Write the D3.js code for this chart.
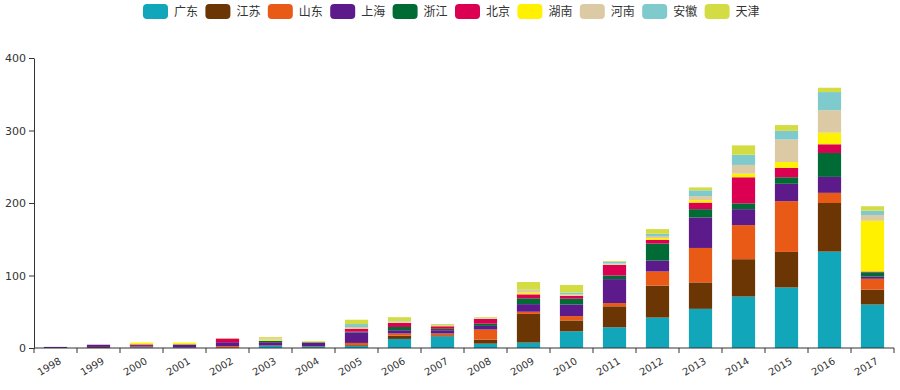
<!DOCTYPE html>
<html>
<head>
<meta charset="utf-8">
<script src="https://cdn.jsdelivr.net/npm/d3@7"></script>
<style>
  html, body { margin: 0; padding: 0; background: #fff; }
  svg { display: block; }
</style>
</head>
<body>
<svg id="chart" width="900" height="390"></svg>
<script>
const years = ["1998","1999","2000","2001","2002","2003","2004","2005","2006","2007","2008","2009","2010","2011","2012","2013","2014","2015","2016","2017"];
const seriesNames = ["广东","江苏","山东","上海","浙江","北京","湖南","河南","安徽","天津"];
const colors = ["#12a6ba","#6b3604","#ea5a17","#5d1a8b","#006b35","#db0052","#fff100","#dccaa4","#7fcacc","#d4dc44"];
const guangdong = [0,0,1,0.5,0,3,2,3,12.5,16,6,7.5,23,28.5,42,54,71,83.5,133,60];
const jiangsu   = [0,1.5,0,0,0,0.5,0.5,1,4.5,1.5,5.5,39.5,15,29,44,36.5,51.5,49,67,20.5];
const shandong  = [0,0,1,0,2.5,0,0,3,3,2.5,14,3,6,4.5,19.5,47.5,47,70,14,15];
const shanghai  = [1.5,3,2,4.5,5.5,4.5,5,14.5,4.5,4.5,5,10.5,16,33,15,42,22,24,22,3];
const zhejiang  = [0,0,0,0,0,2,0.5,1,4.5,2,3,8,8,5,23.5,11.5,8,9,33,6];
const beijing   = [0,0,1,0,5,0,0,4,5.5,3.5,6.5,5.5,4,14.5,5,9,36,13,12,1];
const hunan     = [0,0,2.5,2.5,0,1.5,0.5,0.5,0.5,0.5,0.5,2.5,0.5,0.5,2.5,3.5,5,8,16,70];
const henan     = [0,0,0,0,0,2,0,2,1.5,0.5,0.5,3.5,1.5,1.5,3,5.5,12,31,31,8];
const anhui     = [0,0,0,0,0,0,0,4,0.5,0.5,0.5,0.5,2.5,2.5,3,8,14,12,25,6];
const tianjin   = [0,0,0,0,0.5,1.5,1,6,5.5,1.5,1,10.5,10.5,1,6.5,4,13,8,6,6];
const yTicks = [0,100,200,300,400];

const seriesValues = [guangdong,jiangsu,shandong,shanghai,zhejiang,beijing,hunan,henan,anhui,tianjin];
const table = years.map((y,i) => {
  const row = {year: y};
  seriesNames.forEach((s,k) => row[s] = seriesValues[k][i]);
  return row;
});

const svg = d3.select("#chart");
const margin = {left: 34, right: 6, top: 58, bottom: 42};
const W = 900, H = 390;
const x = d3.scaleBand().domain(years).range([margin.left, W - margin.right]).paddingInner(0.46).paddingOuter(0.23);
const y = d3.scaleLinear().domain([0,400]).range([H - margin.bottom, margin.top]);

const stack = d3.stack().keys(seriesNames);
const stacked = stack(table);
const color = d3.scaleOrdinal().domain(seriesNames).range(colors);

svg.append("g").selectAll("g").data(stacked).join("g")
  .attr("fill", d => color(d.key))
  .selectAll("rect").data(d => d).join("rect")
  .attr("x", d => x(d.data.year))
  .attr("width", x.bandwidth())
  .attr("y", d => y(d[1]))
  .attr("height", d => Math.max(0, y(d[0]) - y(d[1])));

// axes
const axisColor = "#333";
const xBand = d3.scaleBand().domain(years).range([margin.left, W - margin.right]);
const gx = svg.append("g").attr("transform", `translate(0,${H - margin.bottom})`);
gx.append("line").attr("x1", margin.left).attr("x2", W - margin.right).attr("stroke", axisColor);
gx.selectAll("line.tick").data(years.concat(["end"])).join("line")
  .attr("class","tick")
  .attr("x1", (d,i) => i < years.length ? xBand(d) : W - margin.right)
  .attr("x2", (d,i) => i < years.length ? xBand(d) : W - margin.right)
  .attr("y1", 0).attr("y2", 5).attr("stroke", axisColor);
gx.selectAll("text").data(years).join("text")
  .attr("transform", d => `translate(${x(d) + x.bandwidth()/2 + 3},${9}) rotate(-30)`)
  .attr("text-anchor","end")
  .attr("dy","0.71em")
  .attr("font-family","DejaVu Sans, Verdana, sans-serif")
  .attr("font-size", 10)
  .attr("fill","#333")
  .text(d => d);

const gy = svg.append("g").attr("transform", `translate(${margin.left},0)`)
  .call(d3.axisLeft(y).tickValues(yTicks).tickSize(5).tickSizeOuter(0).tickPadding(3));
gy.select(".domain").attr("stroke", axisColor);
gy.selectAll(".tick line").attr("stroke", axisColor);
gy.selectAll(".tick text").attr("font-family","DejaVu Sans, Verdana, sans-serif").attr("font-size", 11).attr("fill","#333");

// legend
const itemStep = 62.4, swW = 25, swH = 15;
const legendTotal = itemStep * seriesNames.length - 10;
const lx0 = (W - legendTotal) / 2;
const lg = svg.append("g").selectAll("g").data(seriesNames).join("g")
  .attr("transform", (d,i) => `translate(${lx0 + i*itemStep},4)`);
lg.append("rect").attr("width", swW).attr("height", swH).attr("rx", 4).attr("ry", 4)
  .attr("fill", d => color(d));
lg.append("text").attr("x", swW + 6).attr("y", swH/2).attr("dy","0.35em")
  .attr("font-family","Noto Sans CJK SC, sans-serif").attr("font-size", 12).attr("fill","#333")
  .text(d => d);
</script>
</body>
</html>
